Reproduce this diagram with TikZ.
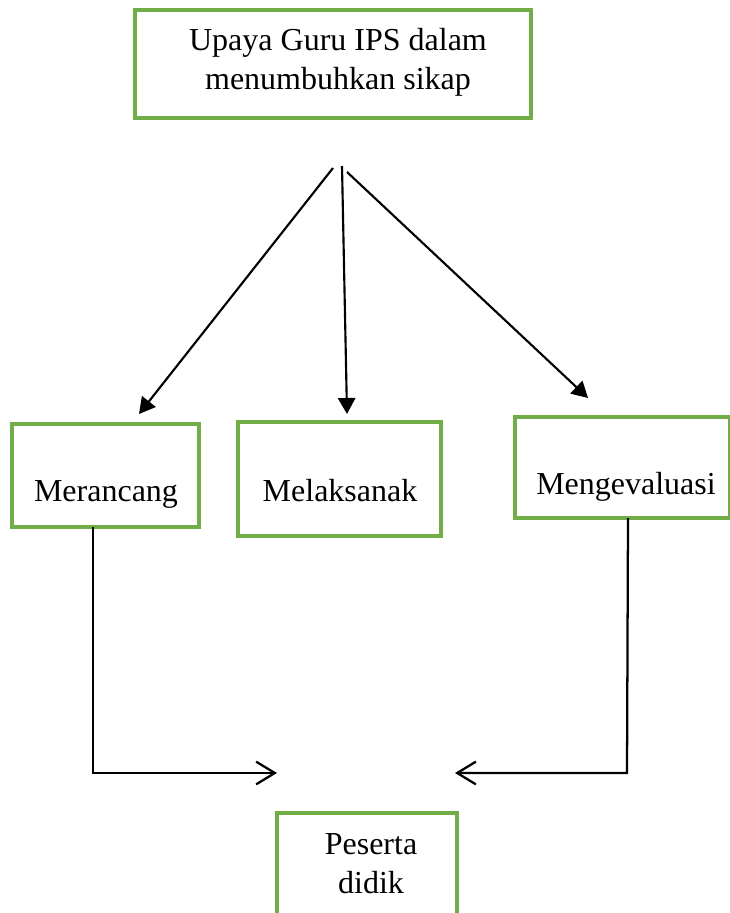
\documentclass[tikz,border=0pt]{standalone}
\usepackage{fontspec}
\setmainfont{Liberation Serif}
\usetikzlibrary{arrows.meta}
\begin{document}
\begin{tikzpicture}[x=0.75pt,y=-0.75pt,
  gbox/.style={draw=boxgreen,line width=2.6pt,fill=white,inner sep=0pt},
  lbl/.style={inner sep=0pt,align=center,font=\fontsize{24}{29.25}\selectfont},
  toparrow/.style={line width=1.6pt,-{Triangle[length=12pt,width=13pt]}},
  botarrow/.style={line width=1.7pt,-{Straight Barb[length=14pt,width=17pt,line width=1.7pt]}}]
\definecolor{boxgreen}{HTML}{70AD47}
\useasboundingbox (0,0) rectangle (729,913);
\fill[white] (0,0) rectangle (729,913);
% boxes
\draw[gbox] (135,10) rectangle (531,118);
\node[lbl] (top) at (338,62) {Upaya Guru IPS dalam\\menumbuhkan sikap};
\draw[gbox] (12,424) rectangle (199,527);
\node[lbl] (mer) at (106,494) {Merancang};
\draw[gbox] (238,422) rectangle (441,536);
\node[lbl] (mel) at (340,491) {Melaksanak};
\draw[gbox] (515,417) rectangle (730,518);
\node[lbl] (men) at (626,487) {Mengevaluasi};
\draw[gbox] (277,813) rectangle (457,940);
\node[lbl] (pes) at (371,864) {Peserta\\didik};
% connector coordinates
\coordinate (s1) at (333,168);
\coordinate (s2) at (342,166);
\coordinate (s3) at (347,172);
\coordinate (e1) at (139,414);
\coordinate (e2) at (347,414);
\coordinate (e3) at (588,398);
\coordinate (l0) at (93,527);
\coordinate (l1) at (93,773);
\coordinate (l2) at (277,773);
\coordinate (r0) at (628,518);
\coordinate (r1) at (627,773);
\coordinate (r2) at (455,773);
\draw[toparrow] (s1) -- (e1);
\draw[toparrow] (s2) -- (e2);
\draw[toparrow] (s3) -- (e3);
\draw[botarrow] (l0) -- (l1) -- (l2);
\draw[botarrow] (r0) -- (r1) -- (r2);
\end{tikzpicture}
\end{document}
